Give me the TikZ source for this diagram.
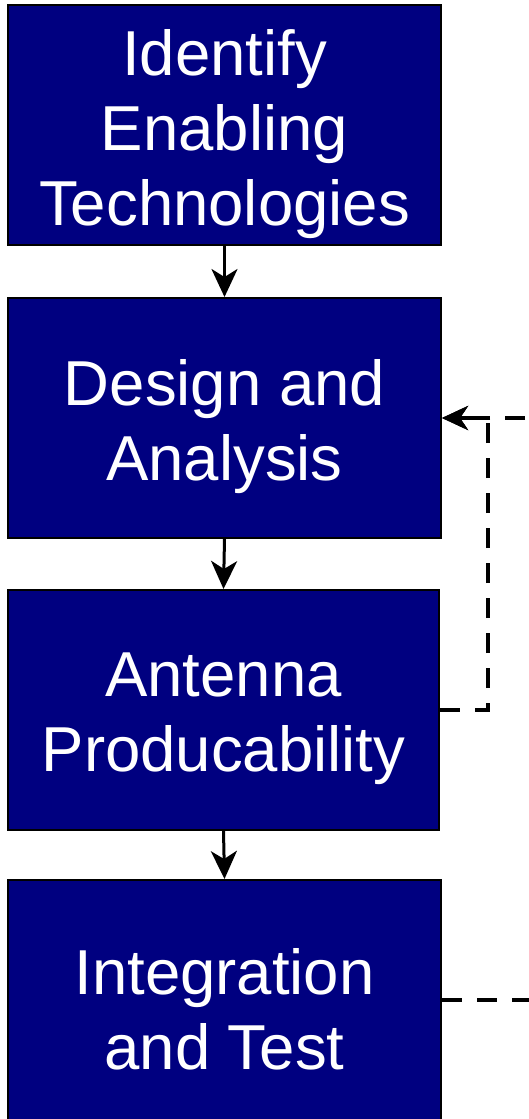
\documentclass[tikz,border=0pt]{standalone}
\usepackage{fontspec}
\setmainfont{Liberation Sans}
\usetikzlibrary{arrows.meta}
\begin{document}
\begin{tikzpicture}[x=1pt,y=-1pt,
  stagebox/.style={draw=black, line width=2pt, fill={rgb,255:red,0;green,0;blue,128},
    minimum width=433pt, minimum height=240pt, inner sep=0pt},
  stagetext/.style={text=white, align=center, inner sep=0pt, yshift=-9pt,
    font=\fontsize{63.5}{75}\selectfont},
  flow/.style={line width=3pt, -{Stealth[length=28pt,width=26pt,inset=8pt]}},
  loop/.style={line width=4pt, dash pattern=on 20pt off 15pt, -{Stealth[length=26pt,width=24pt,inset=8pt]}}]
\path[use as bounding box] (0,0) rectangle (529,1119);
\clip (0,0) rectangle (529,1119);
\node[stagebox] (a) at (224.5,125) {};
\node[stagebox] (b) at (224.5,418) {};
\node[stagebox, minimum width=431pt] (c) at (223.5,710) {};
\node[stagebox] (d) at (224.5,1000) {};
\node[stagetext] (ta) at (a.center) {Identify\\Enabling\\Technologies};
\node[stagetext] (tb) at (b.center) {Design and\\Analysis};
\node[stagetext] (tc) at (c.center) {Antenna\\Producability};
\node[stagetext] (td) at (d.center) {Integration\\and Test};
\coordinate (r1) at (488,710);
\coordinate (r2) at (560,1000);
\draw[flow] (a.south) -- (b.north);
\draw[flow] (b.south) -- (c.north);
\draw[flow] (c.south) -- (d.north);
\draw[loop] (c.east) -| (r1) |- (b.east);
\draw[loop] (d.east) -| (r2) |- (b.east);
\end{tikzpicture}
\end{document}
